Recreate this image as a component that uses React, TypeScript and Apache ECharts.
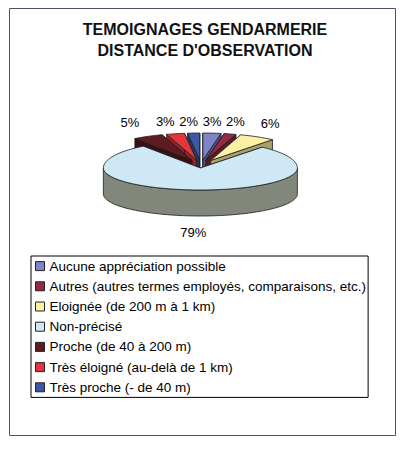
import React, { useEffect, useRef } from "react";
import * as echarts from "echarts";

const categories = [
  "Aucune appréciation possible",
  "Autres (autres termes employés, comparaisons, etc.)",
  "Eloignée (de 200 m à 1 km)",
  "Non-précisé",
  "Proche (de 40 à 200 m)",
  "Très éloigné (au-delà de 1 km)",
  "Très proche (- de 40 m)",
];
const values = [3, 2, 6, 79, 5, 3, 2];
const titleLines = ["TEMOIGNAGES GENDARMERIE", "DISTANCE D'OBSERVATION"];

const topColors = ["#7e84c8", "#942a44", "#fbf1a4", "#cfe8f5", "#5e1c22", "#e2363c", "#3e58a6"];
const sideColors = ["#4c518a", "#5a1828", "#a8a16e", "#82877b", "#3a1014", "#9a2226", "#28386c"];

const FONT = "'Liberation Sans', Arial, sans-serif";

export default function App() {
  const ref = useRef<HTMLDivElement>(null);
  useEffect(() => {
    if (!ref.current) return;
    const chart = echarts.init(ref.current, null, { renderer: "svg" });
    const total = values.reduce((a, b) => a + b, 0);
    const starts: number[] = [];
    let acc = 0;
    values.forEach((v) => {
      starts.push(acc);
      acc += v;
    });

    const cx = 201, cy0 = 164, rx = 97, ryBack = 27, ryFront = 22, h = 26, ex = 20, ey = 4;
    const TWO_PI = Math.PI * 2;

    const mids = values.map((v, i) => ((starts[i] + v / 2) / total) * TWO_PI);
    const depthOrder = mids
      .map((m, i) => ({ i, d: -Math.cos(m) }))
      .sort((a, b) => a.d - b.d);
    const zOf: number[] = [];
    depthOrder.forEach((o, r) => (zOf[o.i] = 2 + r));

    const makeRender = (i: number) => (params: any, api: any) => {
      const v = api.value(0);
      const a0 = (starts[i] / total) * TWO_PI;
      const a1 = a0 + (v / total) * TWO_PI;
      const mid = (a0 + a1) / 2;
      const ox = cx + ex * Math.sin(mid);
      const oy = cy0 - ey * Math.cos(mid);
      const P = (t: number, dy: number) => {
        const c = Math.cos(t);
        return [ox + rx * Math.sin(t), oy - (c > 0 ? ryBack : ryFront) * c + dy];
      };
      const arc = (s: number, e: number, dy: number) => {
        const n = Math.max(2, Math.ceil((e - s) / (Math.PI / 90)));
        const pts: number[][] = [];
        for (let k = 0; k <= n; k++) pts.push(P(s + ((e - s) * k) / n, dy));
        return pts;
      };
      const edge = { stroke: "#1c1c1c", lineWidth: 0.8, lineJoin: "round" };
      const children: any[] = [];
      const c = [ox, oy];
      const cb = [ox, oy + h];
      [a0, a1].forEach((a) => {
        children.push({
          type: "polygon",
          shape: { points: [c, P(a, 0), P(a, h), cb] },
          style: { fill: sideColors[i], ...edge },
        });
      });
      const lo = Math.max(a0, Math.PI / 2);
      const hi = Math.min(a1, (3 * Math.PI) / 2);
      if (hi > lo) {
        const top = arc(lo, hi, 0);
        const bot = arc(lo, hi, h).reverse();
        children.push({
          type: "polygon",
          shape: { points: top.concat(bot) },
          style: { fill: sideColors[i], ...edge },
        });
      }
      children.push({
        type: "polygon",
        shape: { points: [c].concat(arc(a0, a1, 0)) },
        style: { fill: topColors[i], ...edge },
      });
      const cm = Math.cos(mid);
      const lx = ox - 3 + 130 * Math.sin(mid);
      const ly = 177 - 56 * Math.sign(cm) * Math.pow(Math.abs(cm), 0.3);
      children.push({
        type: "text",
        x: lx,
        y: ly,
        style: {
          text: `${Math.round((v / total) * 100)}%`,
          fontSize: 13,
          fontFamily: FONT,
          fill: "#000",
          align: "center",
          verticalAlign: "middle",
        },
      });
      return { type: "group", children };
    };

    const option: any = {
      animation: false,
      backgroundColor: "#fff",
      title: {
        text: titleLines.join("\n"),
        left: "center",
        top: 19,
        padding: 0,
        textStyle: {
          fontSize: 16,
          fontWeight: "bold",
          fontFamily: FONT,
          color: "#111",
          lineHeight: 21,
        },
      },
      legend: {
        orient: "vertical",
        left: 31,
        top: 256,
        itemWidth: 9,
        itemHeight: 9,
        itemGap: 0,
        padding: [0, 2, 0, 4],
        borderColor: "#000",
        borderWidth: 1,
        icon: "rect",
        selectedMode: false,
        data: categories,
        itemStyle: { borderColor: "#222", borderWidth: 1 },
        textStyle: { fontSize: 13.5, fontFamily: FONT, color: "#000", lineHeight: 20.2 },
      },
      graphic: [
        {
          type: "rect",
          shape: { x: 9.5, y: 8.5, width: 386, height: 427 },
          style: { fill: "none", stroke: "#50506a", lineWidth: 1 },
          silent: true,
        },
      ],
      series: categories.map((name, i) => ({
        type: "custom",
        name,
        coordinateSystem: "none",
        z: zOf[i],
        silent: true,
        itemStyle: { color: topColors[i] },
        data: [[values[i]]],
        renderItem: makeRender(i),
      })),
    };
    chart.setOption(option);
    return () => chart.dispose();
  }, []);
  return (
    <div
      ref={ref}
      style={{ position: "fixed", left: 0, top: 0, width: 410, height: 450, background: "#fff" }}
    />
  );
}
